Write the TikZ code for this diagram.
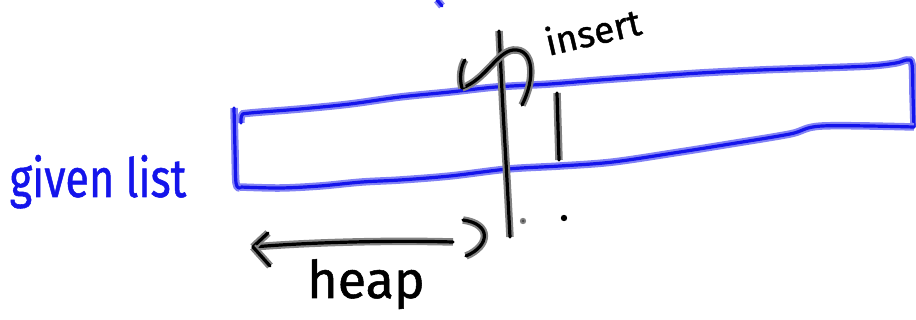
\documentclass[tikz,border=0pt]{standalone}
\usepackage{fontspec}
\newfontfamily\handfont[FakeBold=1]{Fira Sans}
\definecolor{penblue}{RGB}{20,20,235}
\definecolor{haloblue}{RGB}{130,130,245}
\definecolor{halogray}{RGB}{130,130,130}
\tikzset{
  blackpen/.style={draw=black, line width=3.2, line cap=round, line join=round,
    preaction={draw=halogray, line width=7.5}},
  bluepen/.style={draw=penblue, line width=3.2, line cap=round, line join=round,
    preaction={draw=haloblue, line width=7.5}},
  smoothline/.style={smooth, tension=0.55},
  inklabel/.style={font=\handfont\fontsize{#1}{#1}\selectfont, inner sep=0pt, anchor=base},
}
\begin{document}
\begin{tikzpicture}[x=1pt, y=-1pt]
\useasboundingbox (0,0) rectangle (916,320);

% ---- the given list: a long hand-drawn strip ----
\draw[bluepen] plot[smoothline] coordinates {
  (241,123) (242,115) (250,113) (300,109) (350,104) (400,97) (450,92)
  (496,87) (550,84) (600,80) (642,77) (700,73) (760,70) (818,68)
  (870,66) (896,63) (907,60) (912,64) (913,95) (914,127)};
\draw[bluepen] plot[smoothline] coordinates {
  (914,127) (822,126) (790,134) (730,144) (680,152) (613,162)
  (560,166) (508,169) (450,176) (400,180) (362,182) (320,186)
  (280,188) (240,187)};
\draw[bluepen] plot[smoothline] coordinates {(234,108) (235,150) (236,183) (240,188)};
\draw[bluepen] (437,0) -- (442,6);

% ---- markers inside the strip ----
\coordinate (cutTop) at (499,31);
\coordinate (cutBot) at (510,237);
\draw[blackpen] plot[smoothline] coordinates {(cutTop) (503,110) (507,180) (cutBot)};
\coordinate (markTop) at (557,93);
\coordinate (markBot) at (559,160);
\draw[blackpen] (markTop) -- (markBot);

% ---- insert: curved arrow over the cut ----
\coordinate (insStart) at (522,105);
\coordinate (insTip) at (462,88);
\draw[blackpen] (insStart) .. controls (535,80) and (535,48) .. (513,50)
  .. controls (497,52) and (485,80) .. (insTip);
\draw[blackpen] (insTip) .. controls (459,78) and (461,66) .. (465,60);

% ---- heap: arrow to the left, closed by a bracket ----
\coordinate (heapEnd) at (453,242);
\coordinate (heapTip) at (253,247);
\draw[blackpen] (heapEnd) .. controls (380,240) and (300,243) .. (heapTip);
\draw[blackpen] (heapTip) -- (268,233);
\draw[blackpen] (heapTip) -- (270,266);
\draw[blackpen] (463,220) .. controls (492,224) and (490,246) .. (466,256);

% ---- dots ----
\fill[halogray] (523,221) circle (3.2);
\fill[black!70] (523,221) circle (1.5);
\fill[black] (564,218) circle (3.2);

% ---- labels ----
\node[inklabel=54, text=penblue, xscale=0.8] (given) at (98,197) {given list};
\node[inklabel=37, text=black, rotate=13] (insert) at (596,45) {insert};
\node[inklabel=52, text=black] (heap) at (366,298) {heap};
\end{tikzpicture}
\end{document}
